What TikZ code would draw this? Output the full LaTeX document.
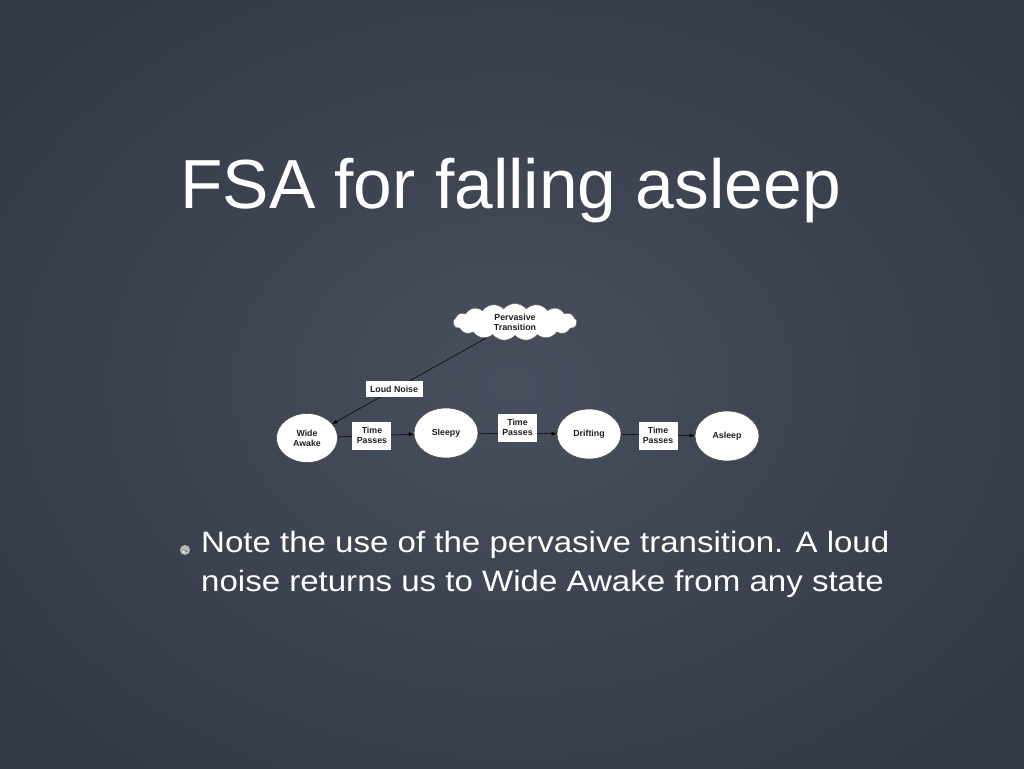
\documentclass[tikz,border=0pt]{standalone}
\usepackage{fontspec}
\setmainfont{Liberation Sans}
\newfontfamily\notefont[FakeStretch=1.12]{Liberation Sans}
\usepackage{tikz}
\usetikzlibrary{shapes.geometric,shapes.symbols,arrows.meta}

\definecolor{slate}{RGB}{64,71,86}
\definecolor{slatedark}{RGB}{50,56,68}
\definecolor{ink}{RGB}{30,30,30}

\begin{document}
\begin{tikzpicture}[x=1pt,y=-1pt,
  state/.style={shape=ellipse,draw=ink!80,line width=0.6pt,fill=white,minimum width=64pt,minimum height=50pt,inner sep=0pt,align=center,text=ink,font=\fontsize{8.8}{9.8}\selectfont\bfseries},
  stateW/.style={state,minimum width=61pt,minimum height=49pt},
  pervasive/.style={shape=cloud,cloud puffs=17,cloud puff arc=100,aspect=3.4,draw=ink!70,line width=0.5pt,fill=white,minimum width=124pt,minimum height=37pt,inner sep=0pt,align=center,text=ink,font=\fontsize{8.8}{9.8}\selectfont\bfseries},
  lbl/.style={fill=white,inner sep=0pt,minimum width=39pt,minimum height=28pt,align=center,text=ink,font=\fontsize{8.8}{9.8}\selectfont\bfseries},
  lblL/.style={lbl,minimum width=57pt,minimum height=16pt},
  edge/.style={draw=black,line width=0.5pt,-{Latex[length=5pt,width=4pt]}},
  note/.style={text=white,inner sep=0pt,font=\notefont\fontsize{29.5}{39}\selectfont}]

% slide background
\useasboundingbox (0,0) rectangle (1024,768);
\shade[inner color=slate!96!white,outer color=slatedark] (-150,-120) rectangle (1174,888);

% title
\node[anchor=base west,inner sep=0pt,text=white,font=\fontsize{69.5}{80}\selectfont] (title) at (180,208) {FSA for falling asleep};

% states
\node[pervasive] (P) at (515,322) {Pervasive\\Transition};
\node[stateW] (W) at (307,438) {Wide\\Awake};
\node[state] (S) at (446,433) {Sleepy};
\node[state] (D) at (589,434) {Drifting};
\node[state] (A) at (727,436) {Asleep};

% transitions
\draw[edge] (P) -- node[lblL,pos=0.6] (ln) {Loud Noise} (W);
\draw[edge] (W) -- node[lbl,pos=0.45] (t1) {Time\\Passes} (S);
\draw[edge] (S) -- node[lbl,pos=0.5,yshift=6pt] (t2) {Time\\Passes} (D);
\draw[edge] (D) -- node[lbl,pos=0.5,yshift=-0.5pt] (t3) {Time\\Passes} (A);

% bullet text
\coordinate (bul) at (185,550);
\fill[gray!55] (bul) circle (5);
\draw[gray!85!black,line width=0.8pt] ([xshift=-2.5pt]bul) -- ([xshift=2.5pt,yshift=-1.5pt]bul);
\fill[white!85!gray] ([xshift=-1.2pt,yshift=-1.8pt]bul) circle (1.4);
\node[note,anchor=base west] (note1) at (201,552) {Note the use of the pervasive transition. A loud};
\node[note,anchor=base west] (note2) at ([yshift=-39pt]note1.base west) {noise returns us to Wide Awake from any state};
\end{tikzpicture}
\end{document}
